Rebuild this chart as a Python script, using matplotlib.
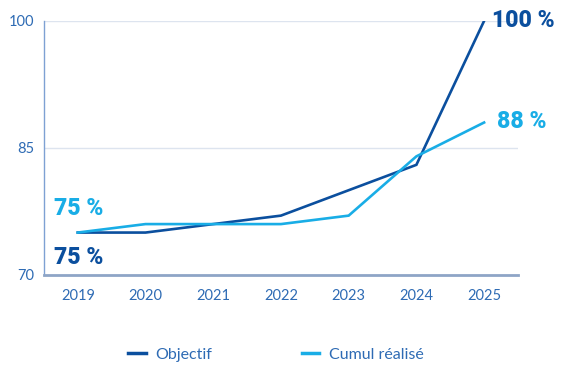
import matplotlib
matplotlib.use("Agg")
import matplotlib.pyplot as plt
from matplotlib.lines import Line2D

years = [2019, 2020, 2021, 2022, 2023, 2024, 2025]
objectif = [75, 75, 76, 77, 80, 83, 100]
cumul = [75, 76, 76, 76, 77, 84, 88]
y_ticks = [70, 85, 100]
series_names = ["Objectif", "Cumul réalisé"]

dark = "#0b4f9e"
light = "#19ade6"
text_blue = "#2e6bb4"

plt.rcParams["font.family"] = ["Lato", "DejaVu Sans"]

fig = plt.figure(figsize=(5.63, 3.67), dpi=100)
ax = fig.add_axes([0.078, 0.251, 0.842, 0.692])

ax.plot(years, objectif, color=dark, lw=1.9, solid_joinstyle="miter", zorder=3)
ax.plot(years, cumul, color=light, lw=1.9, solid_joinstyle="miter", zorder=3)

ax.set_xlim(years[0] - 0.5, years[-1] + 0.5)
ax.set_ylim(70, 100)
ax.set_yticks(y_ticks)
ax.set_xticks(years)

for y in y_ticks[1:]:
    ax.axhline(y, color="#dde4ef", lw=1.0, zorder=1)

for s in ["top", "right"]:
    ax.spines[s].set_visible(False)
ax.spines["left"].set_color("#7ea1d3")
ax.spines["left"].set_linewidth(1.0)
ax.spines["bottom"].set_color("#8ea5c6")
ax.spines["bottom"].set_linewidth(2.0)

ax.tick_params(axis="both", length=0, colors=text_blue, labelsize=10.5)
ax.tick_params(axis="y", pad=7)
ax.tick_params(axis="x", pad=10)

bold = dict(fontsize=16.5, fontweight="black", fontstyle="normal",
            family=["Roboto", "DejaVu Sans"])
ax.annotate(f"{objectif[-1]} %", (years[-1], objectif[-1]), xytext=(6, 0),
            textcoords="offset points", color=dark, va="center", ha="left", **bold)
ax.annotate(f"{cumul[-1]} %", (years[-1], cumul[-1]), xytext=(9, 1),
            textcoords="offset points", color=light, va="center", ha="left", **bold)
ax.annotate(f"{cumul[0]} %", (years[0], cumul[0]), xytext=(-17, 17),
            textcoords="offset points", color=light, va="center", ha="left", **bold)
ax.annotate(f"{objectif[0]} %", (years[0], objectif[0]), xytext=(-17, -18),
            textcoords="offset points", color=dark, va="center", ha="left", **bold)

handles = [Line2D([], [], color=dark, lw=2.5), Line2D([], [], color=light, lw=2.5)]
fig.legend(handles, series_names, loc="center", bbox_to_anchor=(0.49, 0.033),
           ncol=2, frameon=False, handlelength=1.1, handletextpad=0.6,
           columnspacing=5.6, labelcolor=text_blue, fontsize=11.5)

fig.savefig("out.png", dpi=100)
